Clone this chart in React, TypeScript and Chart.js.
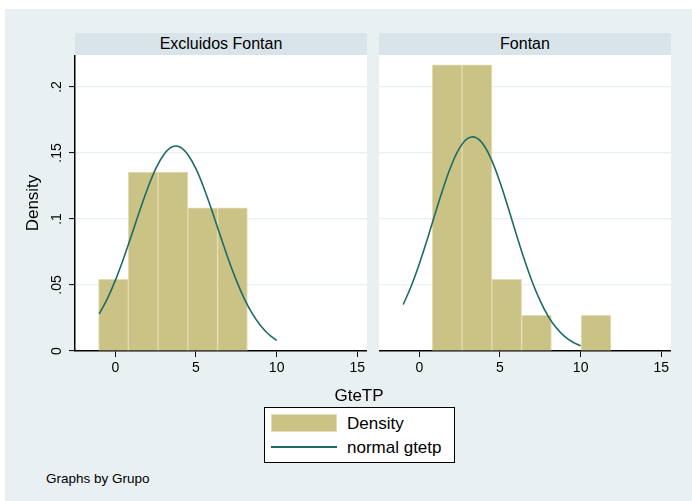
import React, { useEffect, useRef } from "react";
import { Chart, registerables } from "chart.js";

Chart.register(...registerables);

// Histogram bins (shared grid, width ~1.845)
const binCenters = [-0.118, 1.727, 3.572, 5.417, 7.262, 9.107, 10.952];
const leftDensity = [0.0542, 0.1355, 0.1355, 0.1084, 0.1084, null, null];
const rightDensity = [null, 0.2168, 0.2168, 0.0542, 0.0271, null, 0.0271];

// Normal density overlay
const curveX = [-1, -0.5, 0, 0.5, 1, 1.5, 2, 2.5, 3, 3.5, 4, 4.5, 5, 5.5, 6, 6.5, 7, 7.5, 8, 8.5, 9, 9.5, 10];
const leftCurve = [0.0281, 0.0395, 0.0535, 0.0697, 0.0876, 0.1058, 0.1231, 0.1379, 0.1487, 0.1545, 0.1545, 0.1487, 0.1379, 0.1231, 0.1058, 0.0876, 0.0697, 0.0535, 0.0395, 0.0281, 0.0193, 0.0127, 0.0081];
const rightCurve = [0.0352, 0.0492, 0.066, 0.0849, 0.1048, 0.1241, 0.1411, 0.1538, 0.161, 0.1617, 0.1558, 0.144, 0.1278, 0.1088, 0.0888, 0.0696, 0.0523, 0.0378, 0.0261, 0.0174, 0.0111, 0.0068, 0.004];

const panelTitles = ["Excluidos Fontan", "Fontan"];
const xTicks = [0, 5, 10, 15];
const yTicks = [0, 0.05, 0.1, 0.15, 0.2];
const yTickLabels = ["0", ".05", ".1", ".15", ".2"];

const FONT = "'Liberation Sans', Arial, Helvetica, sans-serif";
const BG = "#e9f0f2";
const STRIP = "#d8e4ea";
const GRID = "#e9f0f2";
const BAR = "#cbc385";
const BAR_EDGE = "#e3ddb3";
const LINE = "#1e6b66";

const whiteArea = {
  id: "whiteArea",
  beforeDraw(chart: any) {
    const { ctx, chartArea } = chart;
    ctx.save();
    ctx.fillStyle = "#ffffff";
    ctx.fillRect(chartArea.left, chartArea.top, chartArea.right - chartArea.left, chartArea.bottom - chartArea.top);
    ctx.restore();
  },
};

const noPad = (s: any) => {
  s.paddingTop = 0;
  s.paddingBottom = 0;
  s.paddingLeft = 0;
  s.paddingRight = 0;
};

function makeConfig(density: (number | null)[], curve: number[], showY: boolean): any {
  return {
    type: "bar",
    data: {
      datasets: [
        {
          type: "line",
          label: "normal gtetp",
          data: curveX.map((x, i) => ({ x, y: curve[i] })),
          borderColor: LINE,
          borderWidth: 1.6,
          pointRadius: 0,
          tension: 0.4,
          order: 0,
        },
        {
          type: "bar",
          label: "Density",
          data: binCenters.map((x, i) => ({ x, y: density[i] })),
          backgroundColor: BAR,
          borderColor: BAR_EDGE,
          borderWidth: 1,
          barPercentage: 1,
          categoryPercentage: 1,
          grouped: false,
          order: 1,
        },
      ],
    },
    options: {
      animation: false,
      responsive: false,
      maintainAspectRatio: false,
      events: [],
      layout: { padding: 0 },
      plugins: { legend: { display: false }, tooltip: { enabled: false } },
      scales: {
        x: {
          type: "linear",
          offset: false,
          min: -2.5,
          max: 15.6,
          afterBuildTicks: (s: any) => {
            s.ticks = xTicks.map((v) => ({ value: v }));
          },
          afterFit: (s: any) => {
            s.height = 39;
            noPad(s);
          },
          grid: { offset: false, drawOnChartArea: false, drawTicks: true, tickLength: 6, tickColor: "#000", tickWidth: 1 },
          border: { display: true, color: "#000", width: 1.5 },
          ticks: {
            color: "#000",
            font: { family: FONT, size: 14 },
            padding: 3,
            maxRotation: 0,
            autoSkip: false,
            callback: (v: any) => String(v),
          },
        },
        y: {
          type: "linear",
          min: 0,
          max: 0.2242,
          afterBuildTicks: (s: any) => {
            s.ticks = yTicks.map((v) => ({ value: v }));
          },
          afterFit: (s: any) => {
            s.width = showY ? 75 : 0;
            noPad(s);
          },
          grid: {
            color: (c: any) => (c.tick && c.tick.value === 0 ? "rgba(0,0,0,0)" : GRID),
            lineWidth: 1.2,
            drawTicks: showY,
            tickLength: showY ? 6 : 0,
            tickColor: "#000",
            tickWidth: 1,
          },
          border: { display: showY, color: "#000", width: 1.5 },
          ticks: {
            display: showY,
            color: "#000",
            font: { family: FONT, size: 14 },
            padding: 2,
            minRotation: 90,
            maxRotation: 90,
            crossAlign: "center",
            callback: (v: any) => {
              const i = yTicks.findIndex((t) => Math.abs(t - v) < 1e-9);
              return i >= 0 ? yTickLabels[i] : "";
            },
          },
          title: {
            display: showY,
            text: "Density",
            color: "#000",
            font: { family: FONT, size: 17 },
            padding: { top: 23, bottom: 0 },
          },
        },
      },
    },
    plugins: [whiteArea],
  };
}

export default function App() {
  const leftRef = useRef<HTMLCanvasElement>(null);
  const rightRef = useRef<HTMLCanvasElement>(null);

  useEffect(() => {
    const c1 = new Chart(leftRef.current as HTMLCanvasElement, makeConfig(leftDensity, leftCurve, true));
    const c2 = new Chart(rightRef.current as HTMLCanvasElement, makeConfig(rightDensity, rightCurve, false));
    return () => {
      c1.destroy();
      c2.destroy();
    };
  }, []);

  const abs = (l: number, t: number, w: number, h: number): React.CSSProperties => ({
    position: "absolute",
    left: l,
    top: t,
    width: w,
    height: h,
  });

  const text: React.CSSProperties = { fontFamily: FONT, color: "#000", whiteSpace: "nowrap" };

  return (
    <div style={{ position: "absolute", left: 0, top: 0, width: 692, height: 501, background: "#fff", overflow: "hidden" }}>
      <div style={{ ...abs(5, 9, 687, 492), background: BG }} />
      <div style={{ ...abs(75, 33, 292, 22), background: STRIP, ...text, fontSize: 16, lineHeight: "22px", textAlign: "center" }}>
        {panelTitles[0]}
      </div>
      <div style={{ ...abs(379, 33, 292, 22), background: STRIP, ...text, fontSize: 16, lineHeight: "22px", textAlign: "center" }}>
        {panelTitles[1]}
      </div>
      <canvas ref={leftRef} width={367} height={335} style={{ ...abs(0, 55, 367, 335) }} />
      <canvas ref={rightRef} width={292} height={335} style={{ ...abs(379, 55, 292, 335) }} />
      <div style={{ ...abs(259, 385, 200, 22), ...text, fontSize: 17, lineHeight: "22px", textAlign: "center" }}>GteTP</div>
      <div style={{ ...abs(264, 407, 191, 56), background: "#fff", border: "1px solid #000", boxSizing: "border-box" }} />
      <div style={{ ...abs(271, 414, 66, 18), background: BAR, border: `1px solid ${BAR_EDGE}`, boxSizing: "border-box" }} />
      <div style={{ ...abs(271, 446, 66, 2), background: LINE, height: 1.6 }} />
      <div style={{ ...abs(347, 413, 110, 22), ...text, fontSize: 17, lineHeight: "22px" }}>Density</div>
      <div style={{ ...abs(347, 437, 110, 22), ...text, fontSize: 17, lineHeight: "22px" }}>normal gtetp</div>
      <div style={{ ...abs(46, 470, 150, 18), ...text, fontSize: 13.5, lineHeight: "18px" }}>Graphs by Grupo</div>
    </div>
  );
}
